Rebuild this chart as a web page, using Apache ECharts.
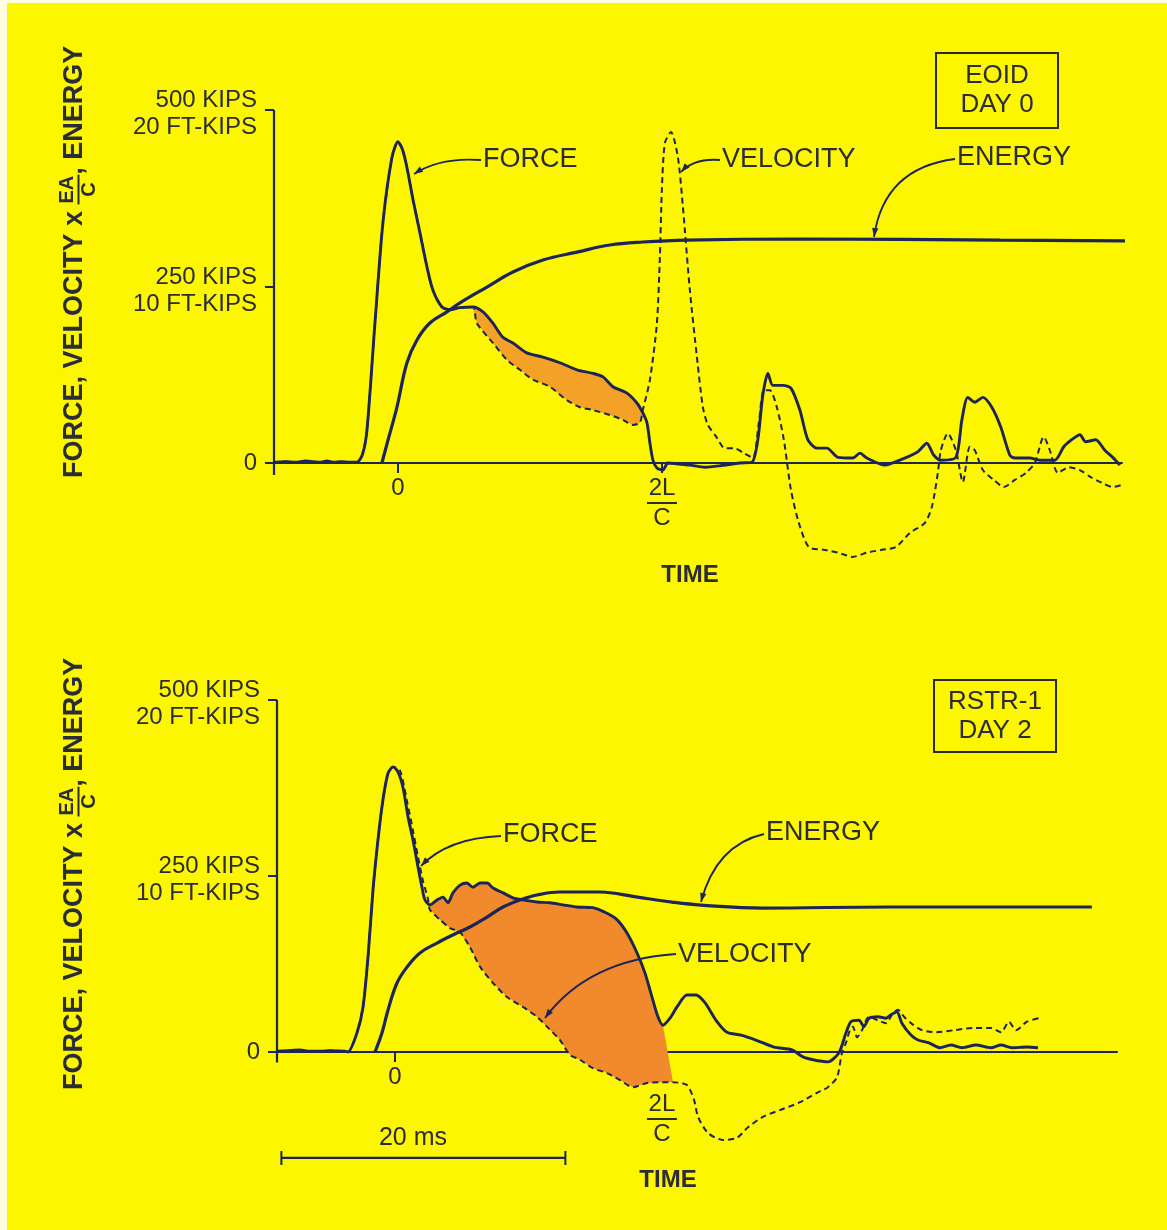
<!DOCTYPE html>
<html>
<head>
<meta charset="utf-8">
<script src="https://cdn.jsdelivr.net/npm/echarts@6/dist/echarts.min.js"></script>
<style>
html,body{margin:0;padding:0;background:#FFFCE0;}
#c{width:1167px;height:1230px;}
</style>
</head>
<body>
<div id="c"></div>
<script>
// ---------------- DATA ----------------
const yTickValues = [0, 250, 500];
const yTickLabels = ['0', '250 KIPS\n10 FT-KIPS', '500 KIPS\n20 FT-KIPS'];
const eoidTimeTicks = [0, 18.6];
const rstrTimeTicks = [0, 18.8];
const timeTickLabels = ['0', '2L/C'];
const panelLabels = ['EOID\nDAY 0', 'RSTR-1\nDAY 2'];
const curveNames = ['FORCE', 'VELOCITY', 'ENERGY'];
const scaleBarMs = [-8, 12];
const scaleBarLabel = '20 ms';

// EOID, Day 0  (time ms, kips)
const eoidForce = [[-8.73,1],[-8.0,2],[-7.2,1],[-6.5,3],[-6.0,2],[-5.5,1],[-5.0,3],[-4.5,1],[-4.0,2],[-3.4,1],[-2.89,1],[-2.5,12],[-2.18,47],[-1.62,198],[-1.06,340],[-0.42,433],[0,455],[0.3,445],[0.63,419],[1.06,373],[1.55,326],[2.04,278],[2.46,245],[3.10,221],[3.66,217],[4.37,220],[5.28,221],[5.99,214],[6.69,198],[7.39,178],[8.10,170],[9.08,156],[10.21,150],[11.41,142],[12.61,132],[13.73,127],[14.44,122],[15.14,108],[16.13,99],[16.83,85],[17.25,71],[17.54,57],[17.75,28],[17.96,4],[18.24,-7],[18.66,-10],[19.01,0],[19.6,-1],[20.56,-3],[21.62,-6],[22.68,-4],[24.08,0],[24.93,1],[25.35,33],[25.70,96],[26.06,127],[26.41,110],[27.11,110],[27.68,106],[28.31,75],[28.87,33],[29.51,21],[30.21,21],[30.99,8],[32.04,7],[32.54,14],[33.03,7],[34.30,-3],[35.35,4],[36.62,16],[37.25,28],[37.75,11],[38.24,4],[39.30,8],[39.72,61],[40.14,93],[40.63,86],[41.20,93],[41.83,79],[42.46,51],[43.10,11],[43.45,7],[44.51,7],[45.21,4],[46.27,4],[46.90,23],[47.46,33],[48.03,40],[48.45,30],[49.15,33],[49.79,18],[50.35,8],[50.85,-3]];
const eoidVelocity = [[-8.73,1],[-8.0,2],[-7.2,1],[-6.5,3],[-6.0,2],[-5.5,1],[-5.0,3],[-4.5,1],[-4.0,2],[-3.4,1],[-2.89,1],[-2.5,12],[-2.18,47],[-1.62,198],[-1.06,340],[-0.42,433],[0,455],[0.3,445],[0.63,419],[1.06,373],[1.55,326],[2.04,278],[2.46,245],[3.10,221],[3.66,217],[4.37,220],[5.28,221],[5.56,198],[6.69,170],[7.68,146],[8.59,132],[9.51,118],[10.70,108],[11.90,89],[12.82,79],[13.73,75],[14.93,68],[15.85,61],[16.55,54],[17.04,57],[17.25,75],[17.75,118],[18.24,198],[18.45,292],[18.59,387],[18.80,453],[19.23,469],[19.72,433],[20.07,363],[20.56,245],[21.06,150],[21.48,79],[21.83,54],[22.39,38],[23.03,21],[23.66,21],[24.37,14],[25.00,7],[25.42,57],[25.77,103],[26.20,103],[26.69,79],[27.18,33],[27.68,-38],[28.24,-85],[28.94,-119],[30.00,-123],[30.99,-127],[32.04,-133],[33.03,-127],[34.08,-123],[35.07,-119],[36.06,-99],[37.11,-85],[37.61,-62],[38.03,-14],[38.24,18],[38.73,42],[39.30,18],[39.79,-27],[40.28,23],[40.63,18],[41.20,-10],[41.97,-24],[42.68,-34],[43.45,-24],[44.23,-14],[44.86,0],[45.49,37],[45.92,18],[46.48,-14],[47.25,-6],[48.03,-10],[48.80,-20],[49.58,-28],[50.35,-34],[51.0,-31]];
// (time ms, ft-kips)
const eoidEnergy = [[-1.13,0],[-0.70,1.30],[-0.07,3.17],[0.63,5.67],[1.34,6.97],[2.25,7.93],[3.45,8.56],[4.37,9.07],[6.27,9.97],[8.10,10.82],[10.21,11.50],[12.61,11.95],[14.93,12.35],[17.25,12.52],[20.35,12.63],[28.3,12.69],[42.4,12.63],[52.0,12.58]];
const eoidFillRange = [4.3, 17.3, 17.3]; // start, force end, velocity end

// RSTR-1, Day 2
const rstrForce = [[-8.31,1],[-7.5,2],[-6.69,3],[-6.0,1],[-5.28,1],[-4.5,2],[-3.52,1],[-3.31,0],[-2.68,27],[-2.25,64],[-1.90,135],[-1.55,230],[-1.20,301],[-0.85,358],[-0.49,396],[-0.14,405],[0.21,398],[0.56,376],[0.92,334],[1.27,301],[1.62,263],[1.90,234],[2.11,216],[2.46,209],[2.96,216],[3.38,220],[3.73,212],[4.08,226],[4.58,237],[5.07,240],[5.49,234],[5.99,240],[6.48,240],[6.90,233],[7.61,226],[8.31,219],[9.01,216],[10.00,213],[10.92,212],[11.83,209],[12.82,206],[13.94,205],[14.93,197],[15.63,188],[16.34,169],[17.04,141],[17.61,112],[18.10,78],[18.52,50],[18.87,38],[19.37,48],[19.86,64],[20.56,81],[21.20,81],[21.83,70],[22.61,45],[23.38,28],[24.37,24],[25.42,17],[26.69,7],[27.96,3],[28.73,-7],[29.44,-11],[30.49,-14],[31.27,-1],[31.76,27],[32.11,43],[32.68,45],[33.03,36],[33.38,48],[34.01,50],[34.58,48],[34.93,53],[35.35,57],[35.70,41],[36.34,24],[36.83,17],[37.61,13],[38.38,6],[39.15,10],[39.93,6],[40.92,10],[41.97,6],[42.68,10],[43.45,6],[44.51,7],[45.28,6]];
const rstrVelocity = [[-8.31,1],[-7.5,2],[-6.69,3],[-6.0,1],[-5.28,1],[-4.5,2],[-3.52,1],[-3.31,0],[-2.68,27],[-2.25,64],[-1.90,135],[-1.55,230],[-1.20,301],[-0.85,358],[-0.49,396],[-0.14,405],[0.35,400],[0.85,356],[1.27,314],[1.62,277],[1.97,243],[2.32,218],[2.46,202],[3.17,188],[3.87,176],[4.58,170],[5.28,149],[5.99,121],[6.90,98],[7.89,78],[9.01,64],[10.00,50],[10.70,36],[11.62,17],[12.32,-4],[13.03,-11],[13.94,-23],[14.93,-30],[15.85,-40],[16.76,-50],[17.75,-44],[18.66,-43],[19.58,-43],[20.56,-47],[21.06,-68],[21.34,-92],[22.04,-115],[23.10,-125],[24.08,-122],[24.86,-107],[25.92,-92],[27.18,-82],[28.45,-72],[29.72,-58],[30.49,-50],[31.13,-36],[31.48,-1],[31.76,13],[32.04,31],[32.25,36],[32.54,21],[32.89,31],[33.38,50],[34.01,45],[34.58,41],[35.07,55],[35.42,60],[35.85,50],[36.34,41],[37.11,31],[38.10,28],[39.37,31],[40.70,34],[41.97,34],[42.68,28],[43.24,43],[43.73,31],[44.51,43],[45.35,48]];
const rstrEnergy = [[-1.41,0],[-0.92,1.08],[-0.49,2.39],[0.14,3.92],[0.85,4.83],[1.76,5.63],[2.96,6.19],[4.08,6.65],[5.28,7.10],[6.48,7.67],[7.61,8.24],[8.80,8.64],[10.00,8.92],[11.62,9.09],[14.44,9.09],[16.97,8.81],[19.51,8.52],[21.55,8.35],[25.92,8.18],[34.79,8.24],[49.08,8.24]];
const rstrFillRange = [2.4, 18.9, 19.6];

// ---------------- STYLE / LAYOUT ----------------
const INK = '#1c2459';
const TXT = '#2c2c36';
const BG = '#FCF600';
const FONT = '"Liberation Sans", Arial, sans-serif';

const panels = [
  {grid:{left:274, top:110, width:848, height:353}, xmin:-8.73, xmax:51, ymax:500, emax:20,
   ticks:eoidTimeTicks, force:eoidForce, vel:eoidVelocity, energy:eoidEnergy, fill:eoidFillRange, fillColor:'#F4A227', fracPad:0, axisBottom:-17},
  {grid:{left:277, top:700, width:840, height:352}, xmin:-8.31, xmax:50.85, ymax:500, emax:20,
   ticks:rstrTimeTicks, force:rstrForce, vel:rstrVelocity, energy:rstrEnergy, fill:rstrFillRange, fillColor:'#F08A2C', fracPad:27, axisBottom:-15}
];

const grids = [], xAxes = [], yAxes = [], series = [];
panels.forEach((p, i) => {
  grids.push(Object.assign({containLabel:false}, p.grid));
  xAxes.push({
    gridIndex:i, type:'value', min:p.xmin, max:p.xmax,
    axisLine:{show:true, onZero:false, lineStyle:{color:INK, width:2}},
    axisTick:{show:true, customValues:p.ticks, length:10, lineStyle:{color:INK, width:2}},
    splitLine:{show:false},
    axisLabel:{
      customValues:p.ticks, margin:13, color:TXT, fontFamily:FONT, fontSize:24,
      formatter:(v) => {
        const k = p.ticks.indexOf(v);
        if (k === 1) return (p.fracPad ? '{s| }\n' : '') + '{n|2L}\n{b| }\n{n|C}';
        return '{n|' + timeTickLabels[0] + '}';
      },
      rich:{
        n:{fontFamily:FONT, fontSize:24, lineHeight:24, color:TXT},
        b:{width:30, height:2, fontSize:1, lineHeight:6, backgroundColor:TXT},
        s:{fontSize:1, lineHeight:p.fracPad}
      }
    }
  });
  yAxes.push({
    gridIndex:i, type:'value', min:0, max:p.ymax,
    axisLine:{show:false, onZero:false},
    axisTick:{show:true, customValues:yTickValues, length:9, lineStyle:{color:INK, width:2}},
    splitLine:{show:false},
    axisLabel:{customValues:yTickValues, margin:17, color:TXT, fontFamily:FONT, fontSize:24,
      formatter:(v) => {
        const k = yTickValues.indexOf(v);
        if (k === 0) return '{a|' + yTickLabels[0] + '}';
        return '{s| }\n' + yTickLabels[k].split('\n').map(t => '{a|' + t + '}').join('\n');
      },
      rich:{
        a:{fontFamily:FONT, fontSize:24, lineHeight:27, color:TXT, align:'right'},
        s:{fontSize:1, lineHeight:8}
      }}
  });
  yAxes.push({gridIndex:i, type:'value', min:0, max:p.emax, show:false, axisLine:{onZero:false}});

  // orange fill between force and velocity
  const r = p.fill;
  const topPts = p.force.filter(q => q[0] >= r[0] && q[0] <= r[1]);
  const botPts = p.vel.filter(q => q[0] >= r[0] && q[0] <= r[2]).reverse();
  const poly = topPts.concat(botPts);
  series.push({
    type:'custom', xAxisIndex:i, yAxisIndex:i*2, silent:true, z:1, clip:false,
    data:[poly[0]],
    renderItem:(params, api) => ({
      type:'polygon',
      shape:{points:poly.map(q => api.coord(q))},
      style:{fill:p.fillColor}
    })
  });
  // vertical axis line (extends a little below zero)
  series.push({
    type:'line', xAxisIndex:i, yAxisIndex:i*2, silent:true, clip:false, z:2, symbol:'none', showSymbol:false,
    data:[[p.xmin, p.ymax], [p.xmin, p.axisBottom]], lineStyle:{color:INK, width:2.2}
  });
  series.push({
    name:curveNames[1], type:'line', xAxisIndex:i, yAxisIndex:i*2, data:p.vel, showSymbol:false, symbol:'none',
    smooth:0.25, z:3, clip:false, lineStyle:{color:INK, width:2, type:[6,4]}
  });
  series.push({
    name:curveNames[0], type:'line', xAxisIndex:i, yAxisIndex:i*2, data:p.force, showSymbol:false, symbol:'none',
    smooth:0.25, z:4, clip:false, lineStyle:{color:INK, width:2.9}
  });
  series.push({
    name:curveNames[2], type:'line', xAxisIndex:i, yAxisIndex:i*2+1, data:p.energy, showSymbol:false, symbol:'none',
    smooth:0.4, z:5, clip:false, lineStyle:{color:INK, width:3.2}
  });
});

// 20 ms scale bar (bottom panel, drawn in time units)
series.push({
  type:'line', xAxisIndex:1, yAxisIndex:2, clip:false, silent:true, z:5,
  data:[[scaleBarMs[0], -150.5], [scaleBarMs[1], -150.5]],
  symbol:'rect', symbolSize:[2,14], showSymbol:true, itemStyle:{color:INK},
  lineStyle:{color:INK, width:2.2}
});

// ---------------- ANNOTATIONS ----------------
function leader(p0, c, p1) {
  const ang = Math.atan2(p1[1]-c[1], p1[0]-c[0]);
  const L = 9, W = 3.2;
  const bx = p1[0]-L*Math.cos(ang), by = p1[1]-L*Math.sin(ang);
  const nx = -Math.sin(ang)*W, ny = Math.cos(ang)*W;
  return [
    {type:'bezierCurve', z:50, silent:true, shape:{x1:p0[0], y1:p0[1], cpx1:c[0], cpy1:c[1], x2:p1[0], y2:p1[1]},
      style:{stroke:INK, lineWidth:1.8, fill:null}},
    {type:'polygon', z:51, silent:true, shape:{points:[[p1[0],p1[1]],[bx+nx,by+ny],[bx-nx,by-ny]]}, style:{fill:INK}}
  ];
}
function label(text, x, y, size, weight, align) {
  return {type:'text', z:52, silent:true, x:x, y:y,
    style:{text:text, fill:TXT, font:(weight||'normal')+' '+size+'px '+FONT,
      align:align||'left', textAlign:align||'left', verticalAlign:'middle', textVerticalAlign:'middle'}};
}
function box(x, y, w, h, text) {
  return [
    {type:'rect', z:50, silent:true, shape:{x:x, y:y, width:w, height:h}, style:{fill:null, stroke:'#2a2a30', lineWidth:2}},
    {type:'text', z:52, silent:true, x:x+w/2, y:y+h/2,
      style:{text:text, fill:TXT, font:'26px '+FONT, lineHeight:29, align:'center', textAlign:'center', verticalAlign:'middle', textVerticalAlign:'middle'}}
  ];
}
const measCtx = document.createElement('canvas').getContext('2d');
function measure(t, f) { measCtx.font = f; return measCtx.measureText(t).width; }
function axisTitle(x, yBottom) {
  const big = 'bold 27px ' + FONT, small = 'bold 20px ' + FONT;
  const t1 = 'FORCE, VELOCITY x ', t2 = ', ENERGY';
  const w1 = measure(t1, big), wf = measure('EA', small);
  const mk = (text, px, py, font, align) => ({type:'text', x:px, y:py,
    style:{text:text, font:font, fill:TXT, align:align, textAlign:align, verticalAlign:'middle', textVerticalAlign:'middle'}});
  return {type:'group', x:x, y:yBottom, rotation:Math.PI/2, z:52, silent:true, children:[
    mk(t1, 0, 0, big, 'left'),
    mk('EA', w1 + wf/2, -8, small, 'center'),
    {type:'line', shape:{x1:w1-1, y1:3.5, x2:w1+wf+1, y2:3.5}, style:{stroke:TXT, lineWidth:2}},
    mk('C', w1 + wf/2, 14, small, 'center'),
    mk(t2, w1 + wf + 1, 0, big, 'left')
  ]};
}

const AF = 27; // annotation font size
const graphics = [
  {type:'rect', z:60, silent:true, shape:{x:0, y:0, width:7, height:1230}, style:{fill:'#FFFCE0'}},
  {type:'rect', z:60, silent:true, shape:{x:0, y:0, width:1167, height:3}, style:{fill:'#FFFCE0'}},
  axisTitle(75, 478),
  axisTitle(75, 1090),
  ...box(936, 53, 122, 75, panelLabels[0]),
  ...box(934, 680, 122, 72, panelLabels[1]),
  label('TIME', 690, 575, 24, 'bold', 'center'),
  label('TIME', 668, 1180, 24, 'bold', 'center'),
  label(scaleBarLabel, 413, 1138, 25, 'normal', 'center'),
  // top panel labels
  label(curveNames[0], 483, 160, AF),
  ...leader([481,160], [440,157], [414,174]),
  label(curveNames[1], 722, 160, AF),
  ...leader([720,160], [694,158], [681,172]),
  label(curveNames[2], 957, 158, AF),
  ...leader([955,159], [884,168], [874,237]),
  // bottom panel labels
  label(curveNames[0], 503, 835, AF),
  ...leader([501,836], [448,838], [421,866]),
  label(curveNames[2], 766, 833, AF),
  ...leader([764,834], [716,845], [701,902]),
  label(curveNames[1], 678, 955, AF),
  ...leader([676,954], [588,960], [545,1018])
];

const chart = echarts.init(document.getElementById('c'), null, {renderer:'canvas'});
chart.setOption({
  backgroundColor:BG,
  animation:false,
  textStyle:{fontFamily:FONT},
  grid:grids, xAxis:xAxes, yAxis:yAxes, series:series,
  graphic:{elements:graphics}
});
</script>
</body>
</html>
